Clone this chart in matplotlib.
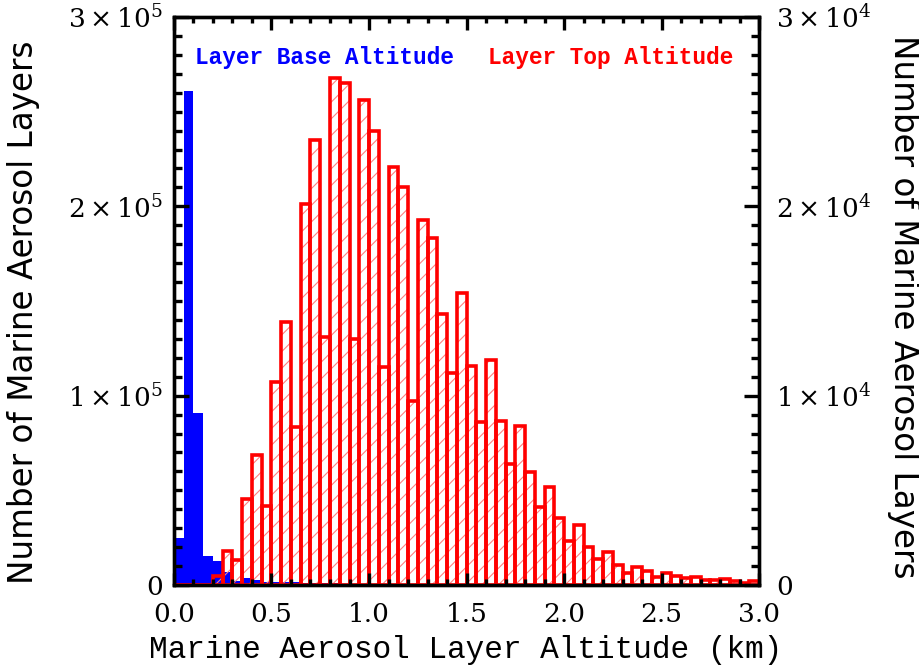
#!/usr/bin/env python3
import numpy as np
import matplotlib
matplotlib.use('Agg')
import matplotlib.pyplot as plt
from matplotlib.ticker import MultipleLocator, FixedLocator, FixedFormatter

# histogram bins (km), 0.05 km wide
bin_left = np.arange(0.0, 3.0, 0.05)
bin_width = 0.05

# layer base altitude counts (left axis)
base_counts = [24900, 261000, 90700, 15400, 12800, 7000, 2200, 3900, 2600, 1800,
               1700, 1400, 1400, 1200, 1000, 900, 800, 700, 600, 600,
               500, 500, 450, 400, 350, 300, 300, 250, 250, 200,
               200, 180, 160, 150, 130, 120, 100, 100, 90, 80,
               70, 60, 60, 50, 50, 40, 40, 30, 30, 30,
               20, 20, 20, 20, 10, 10, 10, 10, 10, 10]

# layer top altitude counts (right axis)
top_counts = [0, 0, 0, 0, 490, 1790, 1320, 4560, 6840, 4180,
              10700, 13900, 8330, 20100, 23500, 13100, 26800, 26500, 13000, 25600,
              24000, 11500, 22100, 21000, 9700, 19300, 18300, 14300, 11200, 15440,
              11540, 8600, 11880, 8680, 6400, 8420, 5960, 4120, 5170, 3560,
              2320, 3160, 2000, 1350, 1720, 1050, 610, 930, 750, 440,
              650, 470, 350, 440, 260, 260, 330, 230, 120, 210]

left_ticks = [0, 1e5, 2e5, 3e5]
left_labels = ['0', r'$1\times10^5$', r'$2\times10^5$', r'$3\times10^5$']
right_ticks = [0, 1e4, 2e4, 3e4]
right_labels = ['0', r'$1\times10^4$', r'$2\times10^4$', r'$3\times10^4$']

plt.rcParams['font.family'] = ['DejaVu Serif']
plt.rcParams['mathtext.fontset'] = 'dejavuserif'
plt.rcParams['hatch.linewidth'] = 0.8

fig = plt.figure(figsize=(9.19, 6.71), dpi=100)
ax1 = fig.add_axes([0.1893, 0.1282, 0.826 - 0.1893, 0.9747 - 0.1282])
ax2 = ax1.twinx()

ax1.bar(bin_left, base_counts, width=bin_width, align='edge', color='blue', linewidth=0)

# hatch first (light), then the thick outline
ax2.bar(bin_left, top_counts, width=bin_width, align='edge', fill=False,
        edgecolor='#ff8080', hatch='//', linewidth=0)
ax2.bar(bin_left, top_counts, width=bin_width, align='edge', fill=False,
        edgecolor='red', linewidth=2.6)

ax1.set_xlim(0, 3.0)
ax1.set_ylim(0, 3e5)
ax2.set_ylim(0, 3e4)

ax1.yaxis.set_major_locator(FixedLocator(left_ticks))
ax1.yaxis.set_major_formatter(FixedFormatter(left_labels))
ax1.yaxis.set_minor_locator(MultipleLocator(1e4))
ax2.yaxis.set_major_locator(FixedLocator(right_ticks))
ax2.yaxis.set_major_formatter(FixedFormatter(right_labels))
ax2.yaxis.set_minor_locator(MultipleLocator(1e3))

# x ticks drawn on ax2 so they sit on top of the red bars
ax2.xaxis.set_visible(True)
for a in (ax1, ax2):
    a.xaxis.set_major_locator(MultipleLocator(0.5))
    a.xaxis.set_minor_locator(MultipleLocator(0.1))
    a.xaxis.set_major_formatter(plt.FormatStrFormatter('%.1f'))
    for s in a.spines.values():
        s.set_linewidth(2.4)
ax2.tick_params(axis='x', which='both', bottom=True, top=True, labelbottom=False,
                direction='in', width=2.4)
ax2.tick_params(axis='x', which='major', length=9)
ax2.tick_params(axis='x', which='minor', length=4.5)
ax1.tick_params(axis='x', which='both', bottom=False, top=False, labelsize=19, pad=9)

ax1.tick_params(axis='y', which='both', direction='in', width=2.4, labelsize=19, pad=8)
ax1.tick_params(axis='y', which='major', length=11)
ax1.tick_params(axis='y', which='minor', length=5.5)
ax2.tick_params(axis='y', which='both', direction='in', width=2.4, labelsize=19, pad=12)
ax2.tick_params(axis='y', which='major', length=11)
ax2.tick_params(axis='y', which='minor', length=5.5)

ax1.set_xlabel('Marine Aerosol Layer Altitude (km)', fontsize=22.4,
               family='Liberation Mono', va='center')
ax1.xaxis.set_label_coords(0.498, -0.114)
ax1.set_ylabel('Number of Marine Aerosol Layers', fontsize=23.5,
               family='DejaVu Sans', va='center', ha='center')
ax1.yaxis.set_label_coords(-0.2564, 0.48)
ax2.set_ylabel('Number of Marine Aerosol Layers', fontsize=23.5,
               family='DejaVu Sans', rotation=-90, va='center', ha='center',
               rotation_mode='anchor')
ax2.yaxis.set_label_coords(1.246, 0.49)

ax1.text(0.036, 0.928, 'Layer Base Altitude', color='blue', fontsize=16.4,
         fontweight='bold', family='Liberation Mono',
         transform=ax1.transAxes, ha='left', va='center')
ax1.text(0.9556, 0.928, 'Layer Top Altitude', color='red', fontsize=16.4,
         fontweight='bold', family='Liberation Mono',
         transform=ax1.transAxes, ha='right', va='center')

plt.savefig('out.png', dpi=100)
